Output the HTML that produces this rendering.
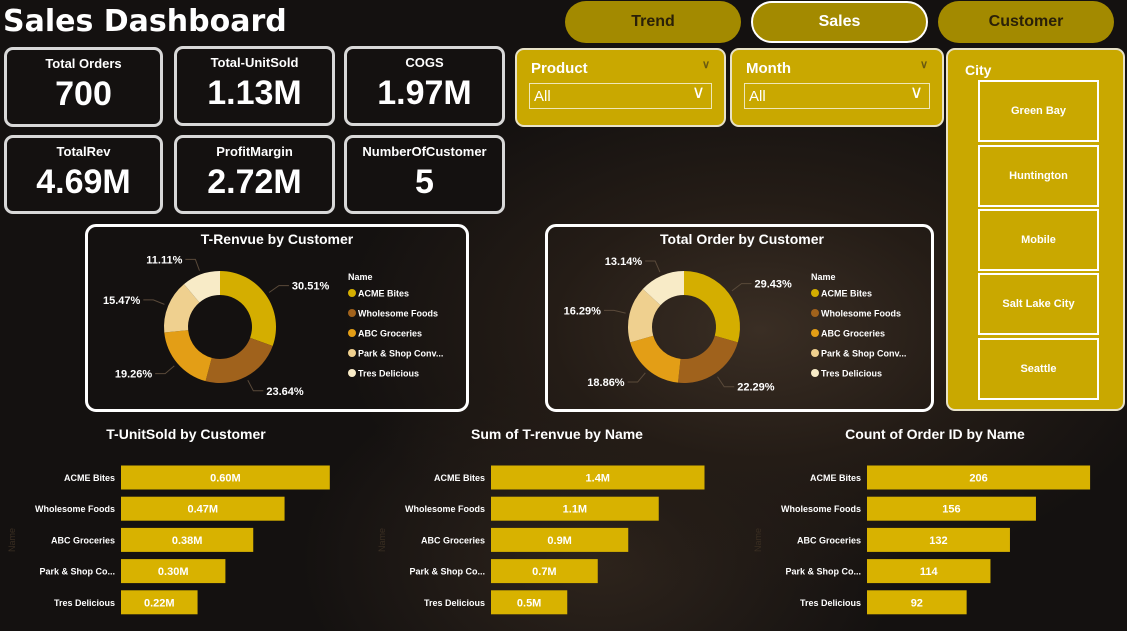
<!DOCTYPE html>
<html><head><meta charset="utf-8">
<style>
*{box-sizing:border-box;margin:0;padding:0}
body{width:1127px;height:631px;overflow:hidden;position:relative;font-family:"Liberation Sans",sans-serif;font-weight:bold;color:#fff;
background:radial-gradient(ellipse 420px 260px at 760px 330px,#3a2e24 0%,#241c16 50%,rgba(20,16,14,0) 100%),radial-gradient(ellipse 300px 200px at 600px 560px,#2e241c 0%,rgba(20,16,14,0) 100%),#141110}
.abs{position:absolute}
.title{left:3px;top:4px;font-size:30px;letter-spacing:0;font-family:"DejaVu Sans","Liberation Sans",sans-serif;font-weight:bold}
.nav{height:42px;border-radius:21px;background:#a38a00;color:#2a2008;font-size:16px;display:flex;align-items:center;justify-content:center;top:1px}
.nav.active{border:2px solid #fff;color:#fff}
.kpi{border:3px solid #d8d8d8;border-radius:9px;background:#141110;text-align:center}
.kpi .l{font-size:13px;margin-top:6px}
.kpi .v{font-size:34px;margin-top:4px}
.filt{background:#c9a800;border:2px solid #e8e2c8;border-radius:9px;top:48px;height:79px}
.filt .h{position:absolute;left:14px;top:10px;font-size:15px}
.filt .c{position:absolute;right:14px;top:8px;font-size:11px;color:#6a5a10}
.filt .dd{position:absolute;left:12px;top:33px;right:12px;height:26px;border:1px solid #efe7b8;font-size:15px;font-weight:normal;padding:4px 0 0 4px}
.filt .dd span{position:absolute;right:6px;top:-2px;font-size:18px}
.city{left:946px;top:48px;width:179px;height:363px;background:#c9a800;border:2px solid #e8e2c8;border-radius:9px}
.cb{left:30px;width:121px;height:62px;border:2px solid #fff;font-size:11px;display:flex;align-items:center;justify-content:center}
.panel{border:3px solid #fff;border-radius:11px;top:224px;height:188px}
</style></head><body>
<div class="abs title">Sales Dashboard</div>
<div class="abs nav" style="left:565px;width:176px">Trend</div>
<div class="abs nav active" style="left:751px;width:177px">Sales</div>
<div class="abs nav" style="left:938px;width:176px">Customer</div>

<div class="abs kpi" style="left:4px;top:47px;width:159px;height:80px"><div class="l">Total Orders</div><div class="v">700</div></div>
<div class="abs kpi" style="left:174px;top:46px;width:161px;height:80px"><div class="l">Total-UnitSold</div><div class="v">1.13M</div></div>
<div class="abs kpi" style="left:344px;top:46px;width:161px;height:80px"><div class="l">COGS</div><div class="v">1.97M</div></div>
<div class="abs kpi" style="left:4px;top:135px;width:159px;height:79px"><div class="l">TotalRev</div><div class="v">4.69M</div></div>
<div class="abs kpi" style="left:174px;top:135px;width:161px;height:79px"><div class="l">ProfitMargin</div><div class="v">2.72M</div></div>
<div class="abs kpi" style="left:344px;top:135px;width:161px;height:79px"><div class="l">NumberOfCustomer</div><div class="v">5</div></div>

<div class="abs filt" style="left:515px;width:211px"><div class="h">Product</div><div class="c">&#8744;</div><div class="dd">All<span>&#8744;</span></div></div>
<div class="abs filt" style="left:730px;width:214px"><div class="h">Month</div><div class="c">&#8744;</div><div class="dd">All<span>&#8744;</span></div></div>

<div class="abs city">
<div class="abs" style="left:17px;top:12px;font-size:14px">City</div>
<div class="abs cb" style="top:30px">Green Bay</div>
<div class="abs cb" style="top:95px">Huntington</div>
<div class="abs cb" style="top:159px">Mobile</div>
<div class="abs cb" style="top:223px">Salt Lake City</div>
<div class="abs cb" style="top:288px">Seattle</div>
</div>

<div class="abs panel" style="left:85px;width:384px"></div>
<div class="abs panel" style="left:545px;width:389px"></div>

<svg id="charts" class="abs" style="left:0;top:0" width="1127" height="631" font-family="Liberation Sans, sans-serif" font-weight="bold"></svg>

<script>
const names = ["ACME Bites","Wholesome Foods","ABC Groceries","Park & Shop Conv...","Tres Delicious"];
const barNames = ["ACME Bites","Wholesome Foods","ABC Groceries","Park & Shop Co...","Tres Delicious"];
const colors = ["#d4ae00","#a0621c","#e39e16","#efd08f","#f8ebc7"];
const revShare = [30.51,23.64,19.26,15.47,11.11];
const orderShare = [29.43,22.29,18.86,16.29,13.14];
const unitSold = [0.60,0.47,0.38,0.30,0.22];
const unitLabels = ["0.60M","0.47M","0.38M","0.30M","0.22M"];
const revenue = [1.4,1.1,0.9,0.7,0.5];
const revLabels = ["1.4M","1.1M","0.9M","0.7M","0.5M"];
const orders = [206,156,132,114,92];
const orderLabels = ["206","156","132","114","92"];

const svg = document.getElementById('charts');
const NS = "http://www.w3.org/2000/svg";
function mk(tag, attrs, parent){const e=document.createElementNS(NS,tag);for(const k in attrs)e.setAttribute(k,attrs[k]);(parent||svg).appendChild(e);return e;}

function donut(cx, cy, vals, title, tx, lx, key){
  const g = mk('g',{});
  
  
  const t = mk('text',{x:tx,y:244,'text-anchor':'middle','font-size':14,fill:'#fff'},g); t.textContent=title;
  
  
  const total = vals.reduce((a,b)=>a+b,0);
  const R=56, r=32;
  let a0 = -Math.PI/2;
  vals.forEach((v,i)=>{
    const a1 = a0 + v/total*2*Math.PI;
    const large = (a1-a0)>Math.PI?1:0;
    const p = (rad,a)=>[cx+rad*Math.cos(a), cy+rad*Math.sin(a)];
    const [x0,y0]=p(R,a0),[x1,y1]=p(R,a1),[x2,y2]=p(r,a1),[x3,y3]=p(r,a0);
    const s = mk('path',{d:`M${x0},${y0}A${R},${R} 0 ${large} 1 ${x1},${y1}L${x2},${y2}A${r},${r} 0 ${large} 0 ${x3},${y3}Z`,fill:colors[i]},g);
    
    
    const am=(a0+a1)/2;
    const [ex,ey]=p(R+4,am),[mx,my]=p(R+16,am);
    const right = Math.cos(am)>=0;
    const hx = mx + (right?10:-10);
    mk('polyline',{points:`${ex},${ey} ${mx},${my} ${hx},${my}`,fill:'none',stroke:'#5a4a3a','stroke-width':1},g);
    const lb = mk('text',{x:hx+(right?3:-3),y:my+4,'text-anchor':right?'start':'end','font-size':11,fill:'#fff'},g);
    lb.textContent = v.toFixed(2)+'%';
    
    
    a0=a1;
  });
  const ln = mk('text',{x:lx,y:280,'font-size':9,fill:'#fff'},g); ln.textContent='Name';
  
  
  names.forEach((n,i)=>{
    const y=293+i*20;
    mk('circle',{cx:lx+4,cy:y,r:4,fill:colors[i]},g);
    const le = mk('text',{x:lx+10,y:y+3.5,'font-size':9,fill:'#fff'},g); le.textContent=n;
    
    
  });
}
donut(220,327,revShare,'T-Renvue by Customer',277,348,'revenue');
donut(684,327,orderShare,'Total Order by Customer',742,811,'orders');

function bars(vals, labels, x0, pxPer, title, tx, key){
  const g = mk('g',{});
  
  
  const t = mk('text',{x:tx,y:439,'text-anchor':'middle','font-size':14,fill:'#fff'},g); t.textContent=title;
  
  
  const ya = mk('text',{x:0,y:0,'font-size':9,fill:'#3a2e22','font-weight':'normal',transform:`translate(${x0-106},540) rotate(-90)`,'text-anchor':'middle'},g); ya.textContent='Name';
  
  
  vals.forEach((v,i)=>{
    const yc = 477.5 + i*31.2;
    const w = v*pxPer;
    const b = mk('rect',{x:x0,y:yc-12,width:w,height:24,fill:'#d8b200'},g);
    
    
    const c = mk('text',{x:x0-6,y:yc+3.5,'text-anchor':'end','font-size':9,fill:'#fff'},g); c.textContent=barNames[i];
    
    
    const vl = mk('text',{x:x0+w/2,y:yc+4,'text-anchor':'middle','font-size':11,fill:'#fff'},g); vl.textContent=labels[i];
    
    
  });
}
bars(unitSold, unitLabels, 121, 348, 'T-UnitSold by Customer', 186, 'unitsold');
bars(revenue, revLabels, 491, 152.5, 'Sum of T-renvue by Name', 557, 'revenue');
bars(orders, orderLabels, 867, 1.083, 'Count of Order ID by Name', 935, 'orders');
</script>
</body></html>
